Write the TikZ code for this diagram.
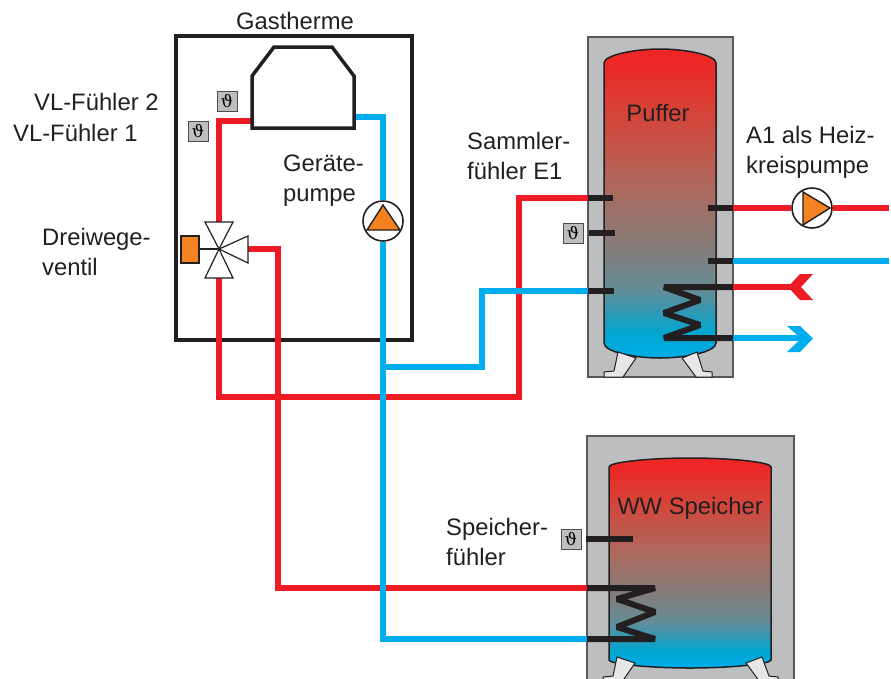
\documentclass[tikz,border=0pt]{standalone}
\usepackage{fontspec}
\setmainfont{Liberation Sans}
\newfontfamily\thetafont{DejaVu Serif}
\definecolor{redp}{RGB}{237,28,36}
\definecolor{bluep}{RGB}{0,174,239}
\definecolor{ink}{RGB}{35,31,32}
\definecolor{casing}{RGB}{188,190,192}
\definecolor{footc}{RGB}{230,231,232}
\definecolor{orangep}{RGB}{245,130,32}
\pgfdeclareverticalshading{tankfill}{100bp}{
 rgb(0bp)=(0,0.68,0.92);
 rgb(25bp)=(0,0.68,0.92);
 rgb(29bp)=(0,0.65,0.82);
 rgb(36bp)=(0.39,0.55,0.59);
 rgb(42.5bp)=(0.51,0.49,0.48);
 rgb(52bp)=(0.67,0.42,0.37);
 rgb(66.5bp)=(0.86,0.24,0.20);
 rgb(73bp)=(0.93,0.15,0.15);
 rgb(100bp)=(0.93,0.15,0.15)}
\tikzset{
 x=1pt,y=-1pt,
 label text/.style={font=\fontsize{23.8}{30}\selectfont,text=ink,inner sep=0pt,align=left,anchor=west},
 redpipe/.style={draw=redp,line width=5.5pt,line join=miter},
 bluepipe/.style={draw=bluep,line width=5.5pt,line join=miter},
 bar/.style={draw=ink,line width=6pt,line join=bevel},
 casing box/.style={draw=ink!75,fill=casing,line width=1.5pt},
 tank/.style={draw=ink,line width=1.5pt,shading=tankfill},
 foot/.style={draw=ink,fill=footc,line width=1pt},
 sensor/.style={draw=ink!80,fill=casing,line width=1pt,minimum size=20pt,inner sep=0pt,font=\thetafont\fontsize{17}{17}\selectfont},
 pump/.style={circle,draw=ink,fill=white,line width=1.6pt,minimum size=40pt,inner sep=0pt},
 orange shape/.style={draw=ink,fill=orangep,line width=1.4pt,line join=miter},
 valve/.style={draw=ink,fill=white,line width=1.2pt,line join=miter},
 house/.style={draw=ink,line width=3.5pt,line join=miter},
}
\begin{document}
\begin{tikzpicture}
\useasboundingbox (0,0) rectangle (891,678);
\clip (0,0) rectangle (891,678);
% casings
\draw[casing box] (588,37) rectangle (733,377);
\draw[casing box] (587,436) rectangle (794,700);
% tanks
\path[tank] (604,63) .. controls (604,55) and (635,49) .. (660,49) .. controls (685,49) and (716,55) .. (716,63) -- (716,343) .. controls (716,352) and (685,358) .. (660,358) .. controls (635,358) and (604,352) .. (604,343) -- cycle;
\path[tank] (609,467) .. controls (609,462) and (650,458) .. (690,458) .. controls (730,458) and (771,462) .. (771,467) -- (771,660) .. controls (771,664) and (730,668) .. (690,668) .. controls (650,668) and (609,664) .. (609,660) -- cycle;
% feet
\draw[foot] (618,352) -- (636,358) -- (623,377) -- (604,377) -- (604,372) -- (614,371) -- cycle;
\draw[foot] (697,352) -- (682,358) -- (696,377) -- (712,377) -- (712,372) -- (703,371) -- cycle;
\draw[foot] (617,657) -- (635,663) -- (622,682) -- (603,682) -- (603,677) -- (613,676) -- cycle;
\draw[foot] (762,657) -- (746,663) -- (760,682) -- (778,682) -- (778,677) -- (769,676) -- cycle;
% gas boiler
\node[draw=ink,line width=3.5pt,minimum width=236pt,minimum height=304pt,inner sep=0pt] (gas) at (294,188) {};
\coordinate (bRedOut) at (252,121);
\coordinate (bBlueOut) at (354,117);
% junction coordinates
\coordinate (vc) at (219,249);
\coordinate (vTop) at (219,222);
\coordinate (vBot) at (219,278);
\coordinate (vRight) at (248,249);
\coordinate (pufRedIn) at (589,198);
\coordinate (pufBlueIn) at (589,291);
\coordinate (wwRedIn) at (588,588);
\coordinate (wwBlueIn) at (588,639);
\coordinate (blueTee) at (383,367);
% pumps
\node[pump] (gp) at (383,221) {};
\node[pump] (hp) at (812,208) {};
% pipes
\draw[redpipe] (bRedOut) -| (vTop);
\draw[redpipe] (vRight) -- (278,249) -- (278,588) -- (wwRedIn);
\draw[redpipe] (vBot) -- (219,397) -- (519,397) -- (519,198) -- (pufRedIn);
\draw[bluepipe] (bBlueOut) -| (gp.north);
\draw[bluepipe] (gp.south) -- (383,639) -- (wwBlueIn);
\draw[bluepipe] (blueTee) -- (482,367) -- (482,291) -- (pufBlueIn);
\coordinate (pufR1) at (733,208);
\coordinate (pufR2) at (733,261);
\coordinate (pufR3) at (733,287);
\coordinate (pufR4) at (733,338);
\coordinate (endR1) at (889,208);
\coordinate (endR2) at (889,261);
\coordinate (endR3) at (796,287);
\coordinate (endR4) at (806,338);
\draw[redpipe] (pufR1) -- (hp.west);
\draw[redpipe] (hp.east) -- (endR1);
\draw[bluepipe] (pufR2) -- (endR2);
\draw[redpipe] (pufR3) -- (endR3);
\draw[bluepipe] (pufR4) -- (endR4);
\fill[redp] (813,274) -- (800,274) -- (788,287) -- (800,300) -- (813,300) -- (801,287) -- cycle;
\fill[bluep] (787,326) -- (800,326) -- (813,338.5) -- (800,352) -- (787,352) -- (801,338.5) -- cycle;
% burner
\draw[house,fill=white] (252,128) -- (252,76) -- (274,47) -- (332,47) -- (354,76) -- (354,128) -- cycle;
% pump triangles
\draw[orange shape] (383,205) -- (367,230) -- (400,230) -- cycle;
\draw[orange shape] (803,192) -- (803,225) -- (830,208) -- cycle;
% valve
\draw[draw=ink,line width=1.2pt] (199,249) -- (vc);
\draw[valve] (vc) -- (205,222) -- (233,222) -- cycle;
\draw[valve] (vc) -- (205,278) -- (233,278) -- cycle;
\draw[valve] (vc) -- (248,236) -- (248,263) -- cycle;
\draw[orange shape] (181,236) rectangle (199,263);
% black tappings
\draw[bar] (588,198) -- (613,198);
\draw[bar] (589,233) -- (615,233);
\draw[bar] (588,291) -- (614,291);
\draw[bar] (708,208) -- (733,208);
\draw[bar] (708,261) -- (733,261);
\draw[bar] (733,287) -- (664,287) -- (700,300) -- (664,313) -- (700,325) -- (664,338) -- (733,338);
\draw[bar] (586,539) -- (633,539);
\draw[bar] (587,588) -- (655,588) -- (617,599) -- (655,612) -- (617,627) -- (655,639) -- (587,639);
% sensors
\node[sensor] (s2) at (227,101) {ϑ};
\node[sensor] (s1) at (198,131) {ϑ};
\node[sensor] (s3) at (573,233) {ϑ};
\node[sensor] (s4) at (571,539) {ϑ};
% labels
\node[label text,anchor=center] (t0) at (295,21) {Gastherme};
\node[label text] (t1) at (34,101.5) {VL-Fühler 2};
\node[label text] (t2) at (13,132.5) {VL-Fühler 1};
\node[label text] (t3) at (42,252) {Dreiwege-\\ventil};
\node[label text] (t4) at (283,181) {Geräte-\\pumpe};
\node[label text] (t5) at (467,155.5) {Sammler-\\fühler E1};
\node[label text] (t6) at (746,152) {A1 als Heiz-\\kreispumpe};
\node[label text] (t7) at (446,542) {Speicher-\\fühler};
\node[label text,anchor=center] (t8) at (658,113) {Puffer};
\node[label text,anchor=center] (t9) at (690,508) {WW Speicher};
\end{tikzpicture}
\end{document}
